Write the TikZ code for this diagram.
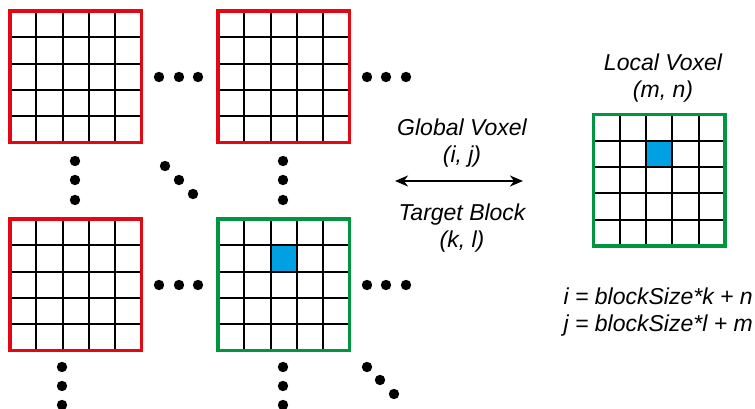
\documentclass[tikz,border=0pt]{standalone}
\usepackage{fontspec}
\setmainfont{Liberation Sans}
\usetikzlibrary{arrows.meta}

\definecolor{blockred}{RGB}{227,6,19}
\definecolor{blockgreen}{RGB}{0,150,64}
\definecolor{voxblue}{RGB}{0,160,227}

\tikzset{
  border/.style={line width=3.5pt},
  gridline/.style={line width=2pt},
  label/.style={font=\fontsize{23}{27}\selectfont\itshape, align=center, inner sep=0pt}
}

% block of 5x5 voxels: x, y, colour, highlight (1/0)
\newcommand{\voxblock}[4]{%
\begin{scope}[shift={(#1,#2)}]
\ifnum#4=1 \fill[voxblue] (52.6,78.9) rectangle (78.9,105.2);\fi
\draw[gridline, step=26.3pt] (0,0) grid (131.5,131.5);
\draw[border, #3] (0,0) rectangle (131.5,131.5);
\end{scope}}

\begin{document}
\begin{tikzpicture}[x=1pt, y=1pt]
\useasboundingbox (0,0) rectangle (755,409);
%\draw (0,0) rectangle (755,409);
\voxblock{10}{266.5}{blockred}{0}
\voxblock{218}{266.5}{blockred}{0}
\voxblock{10}{58.5}{blockred}{0}
\voxblock{218}{58.5}{blockgreen}{1}
\voxblock{593.5}{163}{blockgreen}{1}
% dots
\foreach \x in {159,179,198,367,386,406} {
  \fill (\x,332) circle (5.2);
  \fill (\x,124) circle (5.2);
}
\foreach \y in {248,229,209} {
  \fill (75,\y) circle (5.2);
  \fill (283,\y) circle (5.2);
}
\foreach \y in {42,23,4} {
  \fill (62,\y) circle (5.2);
  \fill (283,\y) circle (5.2);
}
\foreach \x/\y in {165/243,179/229,193/215,367/42,380/29,394/15}
  \fill (\x,\y) circle (5.2);
% labels
\node[label] (local) at (663,331) {Local Voxel\\(m, n)};
\node[label] (global) at (462,266) {Global Voxel\\(i, j)};
\node[label] (target) at (462,181) {Target Block\\(k, l)};
\node[label, align=right, anchor=east] (eqs) at (753,97) {i = blockSize*k + n\\j = blockSize*l + m};
\coordinate (arrowl) at (395,228);
\coordinate (arrowr) at (523,228);
\draw[line width=2pt, {Stealth[length=13pt,width=11pt,inset=4pt]}-{Stealth[length=13pt,width=11pt,inset=4pt]}] (arrowl) -- (arrowr);
\end{tikzpicture}
\end{document}
